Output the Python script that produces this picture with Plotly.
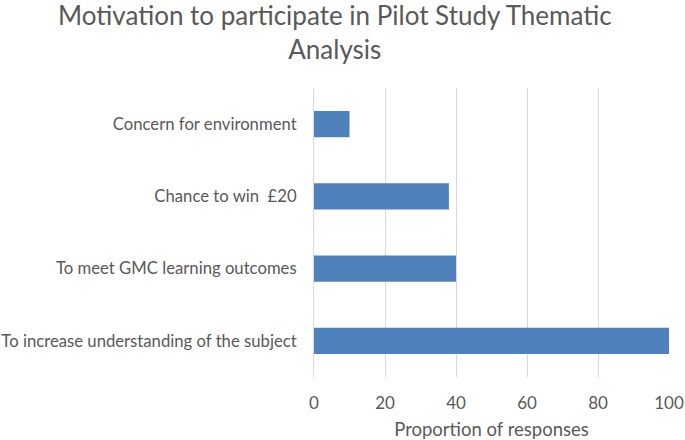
import plotly.graph_objects as go

categories = ["To increase understanding of the subject", "To meet GMC learning outcomes",
              "Chance to win  £20", "Concern for environment"]
values = [100, 40, 38, 10]
x_ticks = [0, 20, 40, 60, 80, 100]

font_family = "Lato, 'Open Sans', sans-serif"
grey = "#595959"

fig = go.Figure(go.Bar(
    y=categories, x=values, orientation="h",
    marker=dict(color="#4f81bd", line=dict(width=0)),
    width=0.36,
))

fig.update_layout(
    width=685, height=440,
    paper_bgcolor="white", plot_bgcolor="white",
    margin=dict(l=314, r=16, t=88, b=63, autoexpand=False),
    font=dict(family=font_family, color=grey, size=15),
    showlegend=False,
    bargap=0.64,
    annotations=[dict(
        text="Motivation to participate in Pilot Study Thematic<br>Analysis",
        xref="paper", yref="paper", x=0.059, y=1.195,
        xanchor="center", yanchor="middle", showarrow=False,
        font=dict(size=26, color=grey, family=font_family),
    )],
)
fig.update_xaxes(range=[0, 100], tickvals=x_ticks, showgrid=True, gridcolor="#d9d9d9",
                 gridwidth=1, zeroline=False, showline=False, ticks="",
                 automargin=False, ticklabelstandoff=14,
                 title=dict(text="Proportion of responses", font=dict(size=18.5, color=grey), standoff=12),
                 tickfont=dict(size=17, color=grey))
fig.update_yaxes(showgrid=False, zeroline=False, showline=True, linecolor="#d9d9d9",
                 ticks="", automargin=False, ticklabelstandoff=13,
                 tickfont=dict(size=16.7, color=grey))

fig.write_html("out.html", config={"displayModeBar": False},
               post_script="document.body.style.margin='0';document.body.style.overflow='hidden';")
